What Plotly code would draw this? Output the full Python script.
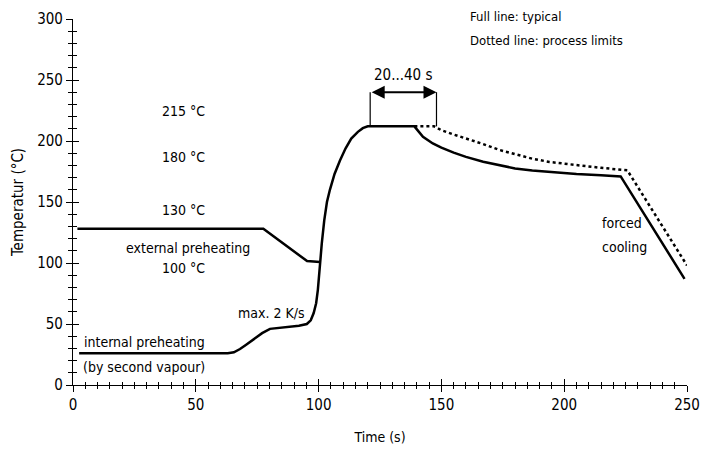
import plotly.graph_objects as go

# ---- data ----
typ_x = [2.5, 63, 65.5, 68, 70.5, 73.4, 77, 80.2, 84, 87, 92, 95.2, 96.8, 98.0, 99.0, 99.7, 100.5, 101.3, 102.3, 103.4, 104.6, 106.5, 108.7, 111, 113.3, 116, 118, 120, 139,
         140.5, 142.5, 146.5, 150, 155, 160, 167, 173.7, 180, 187, 194, 205, 215, 223, 249]
typ_y = [26, 26, 26.8, 29.5, 33, 37, 42.5, 46, 47, 47.5, 48.5, 50, 53, 59, 67, 78, 98, 116, 135, 150, 160, 173, 184, 194, 202, 207.5, 210.5, 212, 212,
         208, 203.5, 198, 194.5, 190.5, 187, 183, 180, 177.5, 175.8, 174.6, 173, 172, 171, 87]

ext_x = [1.8, 77.5, 95.3, 100.6]
ext_y = [128, 128, 101.6, 100.8]

lim_x = [139, 147, 148.5, 150, 155, 160, 167, 173.7, 180, 187, 194, 205, 215, 225.7, 250]
lim_y = [212, 212, 210.5, 208.8, 205.3, 202.3, 197.5, 192.6, 189, 185.5, 182.8, 180, 178, 176, 98]

span_x = [121, 148]
span_y = [212, 240]

temp_labels = ["215 °C", "180 °C", "130 °C", "100 °C"]
temp_label_y = [225, 187, 143.5, 96]

legend_lines = ["Full line: typical", "Dotted line: process limits"]

FONT = "DejaVu Sans Condensed, Liberation Sans Narrow, sans-serif"

fig = go.Figure()
fig.add_trace(go.Scatter(x=ext_x, y=ext_y, mode="lines",
                         line=dict(color="black", width=2.5), hoverinfo="skip"))
fig.add_trace(go.Scatter(x=typ_x, y=typ_y, mode="lines",
                         line=dict(color="black", width=2.5), hoverinfo="skip"))
fig.add_trace(go.Scatter(x=lim_x, y=lim_y, mode="lines",
                         line=dict(color="black", width=2.5, dash="dot"), hoverinfo="skip"))
for sx in span_x:
    fig.add_trace(go.Scatter(x=[sx, sx], y=span_y, mode="lines",
                             line=dict(color="black", width=1.2), hoverinfo="skip"))
# dummy trace for overlay axes (crossing ticks)
fig.add_trace(go.Scatter(x=[None], y=[None], xaxis="x2", yaxis="y2", showlegend=False))

# double arrow
fig.add_annotation(x=span_x[1], y=span_y[1], ax=span_x[0], ay=span_y[1],
                   xref="x", yref="y", axref="x", ayref="y", text="",
                   showarrow=True, arrowhead=2, arrowside="end+start",
                   arrowsize=1.3, arrowwidth=2, arrowcolor="black", standoff=0, startstandoff=0)
fig.add_annotation(x=(span_x[0] + span_x[1]) / 2, y=254, text="20...40 s", showarrow=False,
                   font=dict(size=15))

for t, ty in zip(temp_labels, temp_label_y):
    fig.add_annotation(x=45, y=ty, text=t, showarrow=False, font=dict(size=14))

fig.add_annotation(x=47, y=112, text="external preheating", showarrow=False, font=dict(size=14))
fig.add_annotation(x=29, y=35.2, text="internal preheating", showarrow=False, font=dict(size=14))
fig.add_annotation(x=29, y=14.8, text="(by second vapour)", showarrow=False, font=dict(size=14))
fig.add_annotation(x=81, y=59, text="max. 2 K/s", showarrow=False, font=dict(size=14))
fig.add_annotation(x=214.5, y=132.8, text="forced", showarrow=False, xanchor="left", font=dict(size=14))
fig.add_annotation(x=214.5, y=113, text="cooling", showarrow=False, xanchor="left", font=dict(size=14))
for line_text, py in zip(legend_lines, [1.008, 0.94]):
    fig.add_annotation(x=161, y=py, xref="x", yref="paper", text=line_text, showarrow=False,
                       xanchor="left", yanchor="middle", font=dict(size=13))

common_x = dict(range=[0, 250], showgrid=False, zeroline=False, showline=True, automargin=False,
                linecolor="black", linewidth=1.2, tickmode="linear", tick0=0, dtick=50,
                tickcolor="black", tickwidth=1.2, ticklen=6,
                minor=dict(dtick=5, ticklen=3, tickcolor="black", tickwidth=1))
common_y = dict(range=[0, 300], showgrid=False, zeroline=False, showline=True, automargin=False,
                linecolor="black", linewidth=1.2, tickmode="linear", tick0=0, dtick=50,
                tickcolor="black", tickwidth=1.2, ticklen=6,
                minor=dict(dtick=10, ticklen=4, tickcolor="black", tickwidth=1))

xa = dict(common_x); xa.update(ticks="outside", minor=dict(common_x["minor"], ticks="outside"),
                               title=dict(text="Time (s)", standoff=19, font=dict(size=14)),
                               tickfont=dict(size=15))
xa2 = dict(common_x); xa2.update(ticks="inside", minor=dict(common_x["minor"], ticks="inside"),
                                 overlaying="x", side="bottom", anchor="y", showticklabels=False)
ya = dict(common_y); ya.update(ticks="outside", minor=dict(common_y["minor"], ticks="outside"),
                               title=dict(text="Temperatur (°C)", standoff=9, font=dict(size=15)),
                               tickfont=dict(size=15))
ya2 = dict(common_y); ya2.update(ticks="inside", minor=dict(common_y["minor"], ticks="inside"),
                                 overlaying="y", side="left", anchor="x", showticklabels=False)

fig.update_layout(
    width=708, height=450,
    margin=dict(l=73, r=21, t=19, b=65, autoexpand=False),
    paper_bgcolor="white", plot_bgcolor="white",
    showlegend=False,
    font=dict(family=FONT, color="black", size=14),
    xaxis=xa, xaxis2=xa2, yaxis=ya, yaxis2=ya2,
)

fig.write_html("out.html")
